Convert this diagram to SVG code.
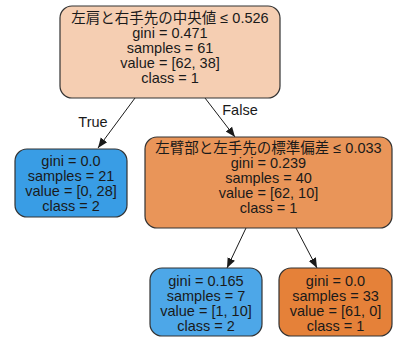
<svg xmlns="http://www.w3.org/2000/svg" width="394" height="338" viewBox="0 0 394 338">
  <defs>
    <marker id="arrow" viewBox="0 0 10 10" refX="10" refY="5" markerWidth="10" markerHeight="10" markerUnits="userSpaceOnUse" orient="auto">
      <path d="M0,1 L10,5 L0,9 Z" fill="#1a1a1a"/>
    </marker>
  </defs>
  <style>
    text { font-family: "Liberation Sans", "Noto Sans CJK JP", sans-serif; font-size: 14.5px; fill: #1a1a1a; text-anchor: middle; }
    .box { stroke: #333; stroke-width: 1.2; }
    .edge { stroke: #1a1a1a; stroke-width: 1; fill: none; marker-end: url(#arrow); }
  </style>
  <rect width="394" height="338" fill="#ffffff"/>

  <g id="edges">
    <line class="edge" x1="135" y1="98" x2="98" y2="148"/>
    <line class="edge" x1="205" y1="98" x2="235" y2="137"/>
    <line class="edge" x1="246" y1="228" x2="227" y2="268"/>
    <line class="edge" x1="296" y1="228" x2="317" y2="268"/>
    <text x="93" y="127">True</text>
    <text x="240" y="115">False</text>
  </g>

  <g id="node0">
    <rect class="box" x="60" y="6" width="220" height="92" rx="12" fill="#f5ceb2"/>
    <text x="170" y="23">左肩と右手先の中央値 ≤ 0.526</text>
    <text x="170" y="38">gini = 0.471</text>
    <text x="170" y="53">samples = 61</text>
    <text x="170" y="68">value = [62, 38]</text>
    <text x="170" y="83">class = 1</text>
  </g>

  <g id="node1">
    <rect class="box" x="15" y="149" width="112" height="68" rx="12" fill="#399de5"/>
    <text x="71" y="166">gini = 0.0</text>
    <text x="71" y="181">samples = 21</text>
    <text x="71" y="196">value = [0, 28]</text>
    <text x="71" y="211">class = 2</text>
  </g>

  <g id="node2">
    <rect class="box" x="145" y="137" width="247" height="91" rx="12" fill="#e99559"/>
    <text x="268.5" y="153">左臂部と左手先の標準偏差 ≤ 0.033</text>
    <text x="268.5" y="168">gini = 0.239</text>
    <text x="268.5" y="183">samples = 40</text>
    <text x="268.5" y="198">value = [62, 10]</text>
    <text x="268.5" y="213">class = 1</text>
  </g>

  <g id="node3">
    <rect class="box" x="150" y="268" width="112" height="68" rx="12" fill="#4da7e8"/>
    <text x="206" y="286">gini = 0.165</text>
    <text x="206" y="301">samples = 7</text>
    <text x="206" y="316">value = [1, 10]</text>
    <text x="206" y="331">class = 2</text>
  </g>

  <g id="node4">
    <rect class="box" x="279" y="268" width="113" height="68" rx="12" fill="#e58139"/>
    <text x="335.5" y="286">gini = 0.0</text>
    <text x="335.5" y="301">samples = 33</text>
    <text x="335.5" y="316">value = [61, 0]</text>
    <text x="335.5" y="331">class = 1</text>
  </g>
</svg>
